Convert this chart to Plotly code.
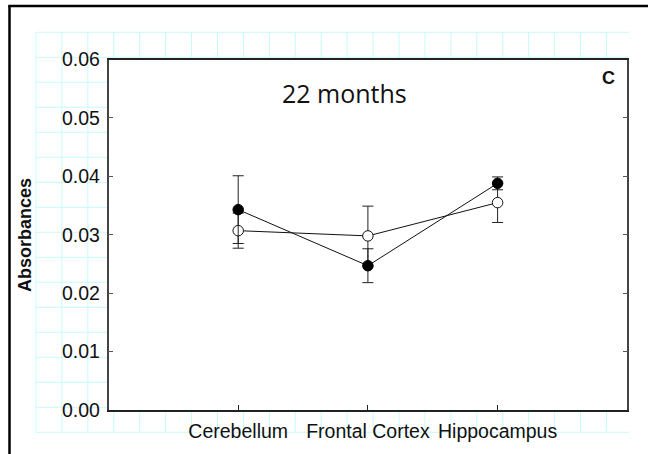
import plotly.graph_objects as go

# ---- data ----
categories = ["Cerebellum", "Frontal Cortex", "Hippocampus"]
cat_pos = [1, 2, 3]
filled_vals = [0.0343, 0.0247, 0.0388]
filled_err = [0.0058, 0.0029, 0.0011]
open_vals = [0.0307, 0.0298, 0.0355]
open_err = [0.0030, 0.0051, 0.0034]
y_ticks = [0.00, 0.01, 0.02, 0.03, 0.04, 0.05, 0.06]

W, H = 648, 454


def px(x):
    return x / W


def py(y):
    return 1 - y / H


# plot area in pixels
L, R, T, B = 108.5, 627.3, 59.5, 410.0

fig = go.Figure()

fig.add_trace(go.Scatter(
    x=cat_pos, y=open_vals, mode="lines+markers",
    line=dict(color="#111111", width=1),
    marker=dict(size=10.5, color="white", line=dict(color="#111111", width=1)),
    error_y=dict(type="data", array=open_err, visible=True, color="#222222",
                 thickness=1, width=5.5),
    showlegend=False,
))
fig.add_trace(go.Scatter(
    x=cat_pos, y=filled_vals, mode="lines+markers",
    line=dict(color="#111111", width=1),
    marker=dict(size=10.5, color="black", line=dict(color="black", width=1)),
    error_y=dict(type="data", array=filled_err, visible=True, color="#222222",
                 thickness=1, width=5.5),
    showlegend=False,
))

shapes = []
grid_color = "#c8fafa"
# background cyan grid (decoration)
gx0, gx1, gy0, gy1 = 36.0, 629.0, 32.3, 432.0
for k in range(17):
    y = gy0 + 25.0 * k
    shapes.append(dict(type="line", xref="paper", yref="paper", layer="below",
                       x0=px(gx0), x1=px(gx1), y0=py(y), y1=py(y),
                       line=dict(color=grid_color, width=1)))
for k in range(23):
    x = gx0 + 25.93 * k
    shapes.append(dict(type="line", xref="paper", yref="paper", layer="below",
                       x0=px(x), x1=px(x), y0=py(gy0), y1=py(gy1),
                       line=dict(color=grid_color, width=1)))
# white plot area over the grid
shapes.append(dict(type="rect", xref="paper", yref="paper", layer="below",
                   x0=px(L), x1=px(R), y0=py(B), y1=py(T),
                   fillcolor="white", line=dict(width=0)))
# outer frame (left and top)
shapes.append(dict(type="line", xref="paper", yref="paper", layer="above",
                   x0=px(9.5), x1=px(9.5), y0=py(5.5), y1=0,
                   line=dict(color="black", width=2.5)))
shapes.append(dict(type="line", xref="paper", yref="paper", layer="above",
                   x0=px(8.3), x1=1, y0=py(6), y1=py(6),
                   line=dict(color="black", width=2.5)))

axis_font = dict(family="Arial, Liberation Sans, sans-serif", size=19.5, color="#111111")

fig.update_layout(
    width=W, height=H,
    margin=dict(l=0, r=0, t=0, b=0, pad=0, autoexpand=False),
    paper_bgcolor="white", plot_bgcolor="white",
    shapes=shapes,
    xaxis=dict(
        domain=[px(L), px(R)], range=[0, 4],
        tickvals=cat_pos, ticktext=categories,
        ticks="inside", ticklen=5, tickcolor="#222222", tickwidth=1,
        showline=True, linecolor="#222222", linewidth=1.5, mirror=True,
        showgrid=False, zeroline=False, tickfont=axis_font,
        automargin=False, ticklabelstandoff=3,
    ),
    yaxis=dict(
        domain=[py(B), py(T)], range=[0, 0.06],
        tickvals=y_ticks, tickformat=".2f",
        ticks="inside", ticklen=5, tickcolor="#555555", tickwidth=1,
        showline=True, linecolor="#444444", linewidth=1.5, mirror="ticks",
        showgrid=False, zeroline=False, tickfont=axis_font,
        automargin=False, ticklabelstandoff=3,
    ),
    annotations=[
        dict(text="<b>Absorbances</b>", xref="paper", yref="paper",
             x=px(25), y=py(235), textangle=-90, showarrow=False,
             font=dict(family="Arial, Liberation Sans, sans-serif", size=18, color="#111111"),
             xanchor="center", yanchor="middle"),
        dict(text="22 months", xref="paper", yref="paper",
             x=px(344), y=py(93), showarrow=False,
             font=dict(family="Open Sans, sans-serif", size=25, color="#111111"),
             xanchor="center", yanchor="middle"),
        dict(text="<b>C</b>", xref="paper", yref="paper",
             x=px(608), y=py(78), showarrow=False,
             font=dict(family="Arial, Liberation Sans, sans-serif", size=18, color="#111111"),
             xanchor="center", yanchor="middle"),
    ],
)

fig.write_html("out.html")
